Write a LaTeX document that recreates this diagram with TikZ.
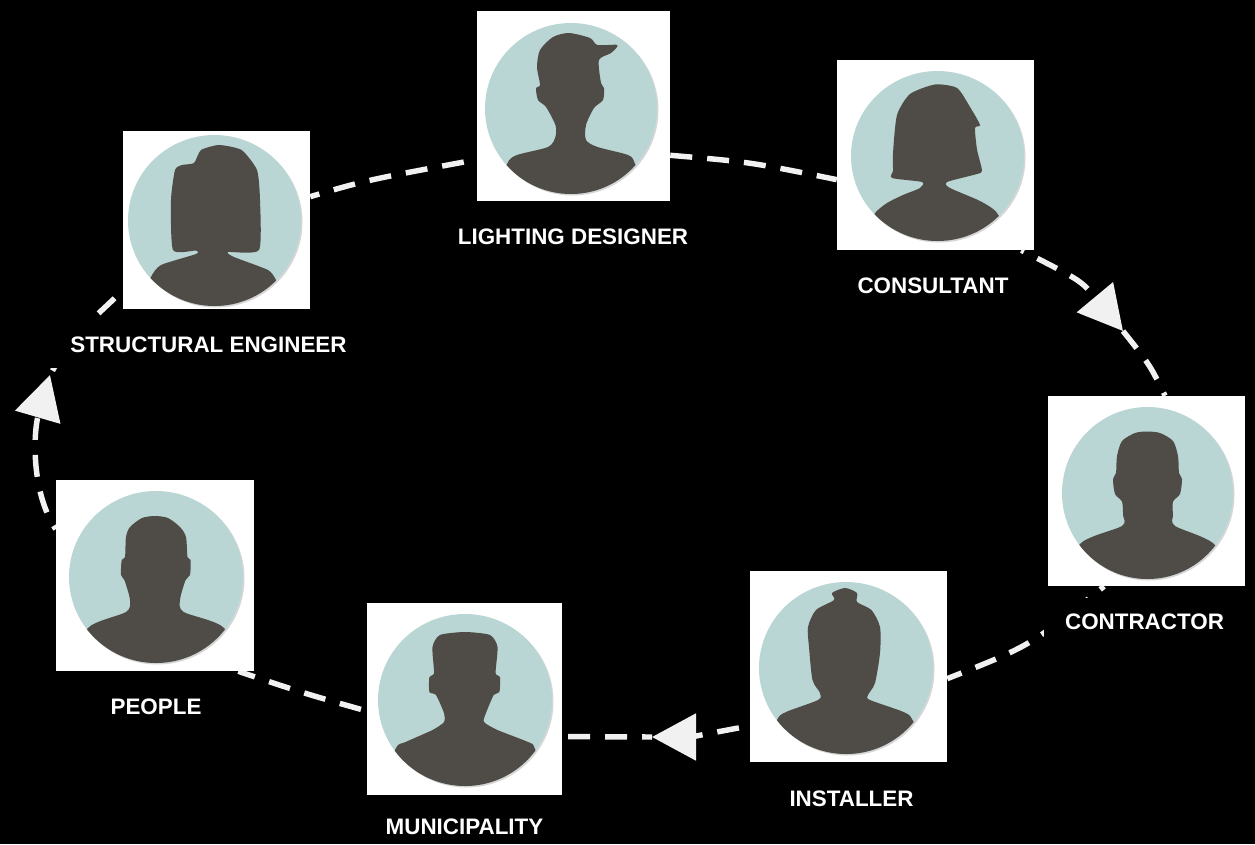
\documentclass[tikz,border=0pt]{standalone}
\usepackage{fontspec}
\setmainfont{Liberation Sans}
\usetikzlibrary{arrows.meta}
\pgfdeclarelayer{backdrop}
\pgfdeclarelayer{links}
\pgfsetlayers{backdrop,links,main}
\definecolor{tealdisc}{HTML}{B9D6D4}
\definecolor{darksil}{HTML}{4F4B46}
\definecolor{linkcol}{HTML}{F1F1F1}
\tikzset{
  card/.style={fill=white,draw=none,inner sep=0pt,minimum width=#1},
  lab/.style={text=white,font=\fontsize{16.8pt}{18pt}\selectfont\bfseries,inner sep=0pt,fill=black},
  link/.style={draw=linkcol,line width=4.1pt,dash pattern=on 16.5pt off 11.25pt},
  headtip/.style={-{Triangle[length=33pt,width=34.5pt,fill=linkcol]}},
  sil/.style={fill=darksil}
}
\newcommand{\discbase}[4]{%
  \fill[black!16] (#1+1.5,#2+1.5) ellipse [x radius=#3*0.75pt,y radius=#4*0.75pt];
  \fill[tealdisc] (#1,#2) ellipse [x radius=#3*0.75pt,y radius=#4*0.75pt];
  \clip (#1,#2) ellipse [x radius=#3*0.75pt,y radius=#4*0.75pt];
}
\begin{document}
\begin{tikzpicture}[x=0.75pt,y=-0.75pt]
\useasboundingbox (0,0) rectangle (1255,844);
\begin{pgfonlayer}{backdrop}
\fill[black] (0,0) rectangle (1255,844);
\end{pgfonlayer}

% cards
\node[card=144.75pt,minimum height=142.5pt] (lighting) at (573.5,106) {};
\node[card=140.25pt,minimum height=133.5pt] (structural) at (216.5,220) {};
\node[card=147.75pt,minimum height=142.5pt] (consultant) at (935.5,155) {};
\node[card=147.75pt,minimum height=142.5pt] (contractor) at (1146.5,491) {};
\node[card=147.75pt,minimum height=143.25pt] (installer) at (848.5,666.5) {};
\node[card=146.25pt,minimum height=144pt] (municipality) at (464.5,699) {};
\node[card=148.5pt,minimum height=143.25pt] (people) at (155,575.5) {};

% lighting designer
\begin{scope}
\discbase{571}{108.5}{86}{85.5}
\fill[sil] plot[smooth cycle,tension=0.45] coordinates {(507.6,163) (517,155) (548,147) (555.4,137) (555.4,125) (546,107) (538,100) (536,88) (540,85) (537,67) (540,50) (553,37) (569,33) (590,38) (597.5,45) (617.4,45) (611,53) (599,60) (601,83) (604,88) (603,100) (594,108) (586,125) (586,140) (597.5,147) (628,155) (634.6,163) (640,190) (571,205) (502,190)};
\end{scope}
% structural engineer
\begin{scope}
\discbase{214.5}{220.5}{86.5}{85.5}
\fill[sil] plot[smooth cycle,tension=0.35] coordinates {(151,277) (161,265) (196,254) (196,250.5) (173,250) (171,200) (175,170) (182,165) (194,163) (201,150) (219,145) (241.6,150) (257,170) (260,200) (259,250) (228,252) (234,257) (268,270) (276,280) (285,300) (215,318) (145,300)};
\end{scope}
% consultant
\begin{scope}
\discbase{937.5}{156}{86.5}{85}
\fill[sil] plot[smooth cycle,tension=0.4] coordinates {(874,214.6) (887,203) (903,195) (920,188) (922,182) (892,178) (893,170.5) (893,153) (897,115) (910,94) (935,84.5) (957,88) (970,107) (980,125) (975,128) (977,149.5) (982,170.5) (977,174) (947,182) (950,188) (980,201) (997,213) (1005,240) (937,255) (868,240)};
\end{scope}
% contractor
\begin{scope}
\discbase{1147.5}{493}{85.5}{86}
\fill[sil] plot[smooth cycle,tension=0.45] coordinates {(1080,544) (1122,526) (1123,515) (1122,501.6) (1115,494) (1113,479) (1116,473) (1117,456) (1122,441) (1135,433) (1147,431.5) (1160,433) (1173,441) (1178,456) (1179,473) (1182,479) (1180,494) (1173,501.6) (1173,515) (1175,526) (1215,545) (1230,590) (1147,600) (1065,590)};
\end{scope}
% installer
\begin{scope}
\discbase{846}{668}{87}{86}
\fill[sil] plot[smooth cycle,tension=0.45] coordinates {(777,720) (786,712) (818,700) (820,693) (812.5,680) (809,647) (808,627) (816,610) (834,600) (832,593) (845,588) (857,593) (857,602) (871.4,610) (880,627) (880,653) (875,683) (868,695) (870,700) (903.6,712) (912.5,720) (925,755) (846,770) (765,755)};
\end{scope}
% municipality
\begin{scope}
\discbase{465}{700}{87}{86}
\fill[sil] plot[smooth cycle,tension=0.4] coordinates {(396,748) (405.6,742) (432.5,730) (444,722) (444,713) (436,695) (429.4,692) (429.4,677) (434,673) (432.5,647) (440,635) (465,632) (490,635) (497.5,647) (495.6,673) (500,677) (499.4,692) (493.7,695) (486,713) (484,722) (497.5,730) (528,742) (534.6,748) (545,790) (465,800) (385,790)};
\end{scope}
% people
\begin{scope}
\discbase{156}{577}{87}{86}
\fill[sil] plot[smooth cycle,tension=0.45] coordinates {(88,628) (126,612) (130,600) (124.4,580) (121,575) (121.7,560) (125,557) (126,537) (130,527) (142,518) (155,516) (168,518) (180,527) (186,537) (187.5,557) (190.6,560) (190,575) (185.6,580) (180,600) (183.7,612) (224,628) (235,670) (155,680) (75,670)};
\end{scope}

% labels
\node[lab] (llighting) at (573,236.7) {LIGHTING DESIGNER};
\node[lab] (lconsultant) at (933,285.7) {CONSULTANT};
\node[lab,minimum width=150.75pt,minimum height=36pt] (lcontractor) at (1144.5,621.7) {CONTRACTOR};
\node[lab] (linstaller) at (851.5,798.7) {INSTALLER};
\node[lab] (lmunicipality) at (464.5,826.7) {MUNICIPALITY};
\node[lab] (lpeople) at (156,706.7) {PEOPLE};
\node[lab,minimum width=237.75pt,minimum height=34.5pt] (lstructural) at (208.5,344.7) {STRUCTURAL ENGINEER};

% connectors
\coordinate (tipa) at (1123,331);
\coordinate (tipb) at (652,737);
\coordinate (tipc) at (50,375);
\begin{pgfonlayer}{links}
\draw[link,dash phase=9.4pt] (structural.14) .. controls (367,180) .. (lighting.209);
\draw[link,dash phase=0pt] (lighting.-27) .. controls (750,162) .. (consultant.194);
\draw[link,headtip,dash phase=14.25pt] (consultant.-48) .. controls (1081,280.5) .. (tipa);
\draw[link,dash phase=0pt] (tipa) .. controls (1150,365) .. (contractor.79);
\draw[link,dash phase=12.75pt] (contractor.246) .. controls (1030,646) .. (installer.-7);
\draw[link,headtip,dash phase=19.5pt] (installer.211) .. controls (690,737) .. (tipb);
\draw[link,dash phase=9pt] (tipb) -- (municipality.-21);
\draw[link,dash phase=23.25pt] (municipality.187) .. controls (303,693) .. (people.-49);
\draw[link,headtip,dash phase=13.5pt] (people.155) .. controls (30,490) and (34,430) .. (tipc);
\draw[link,dash phase=24pt] (tipc) .. controls (70,340) .. (structural.217);
\end{pgfonlayer}
\end{tikzpicture}
\end{document}
